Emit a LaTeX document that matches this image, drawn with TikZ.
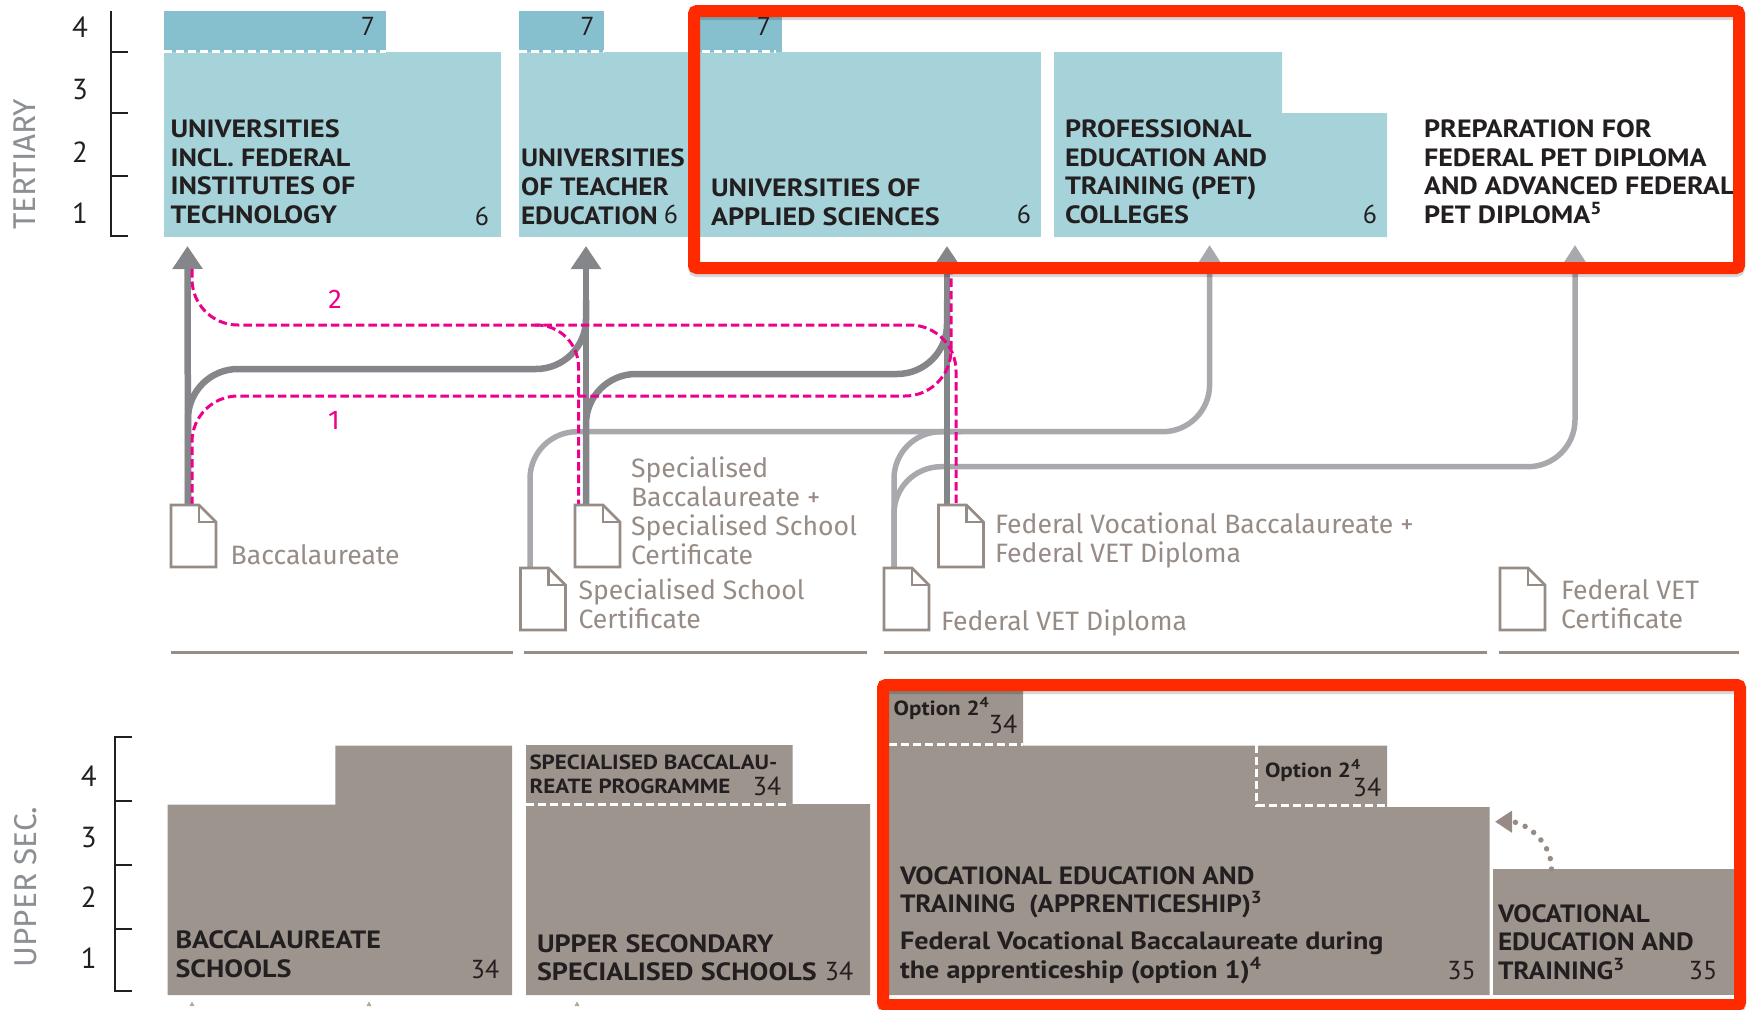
\documentclass[tikz,border=0pt]{standalone}
\usepackage{fontspec}
\setmainfont{Fira Sans}
\newfontfamily\headfont[FakeStretch=1.125]{PT Sans}
\newfontfamily\headtight[FakeStretch=1.09]{PT Sans}
\newfontfamily\numfont{PT Sans}
\usetikzlibrary{arrows.meta}
\definecolor{tealpale}{HTML}{A6D3D9}
\definecolor{tealdeep}{HTML}{86C0CF}
\definecolor{taupe}{HTML}{9D948D}
\definecolor{docgray}{HTML}{978C85}
\definecolor{darkroute}{HTML}{85868A}
\definecolor{lightroute}{HTML}{A7A9AC}
\definecolor{magentaroute}{HTML}{EC008C}
\definecolor{framered}{HTML}{FF2A00}
\definecolor{inkdark}{HTML}{231F20}
\definecolor{axisgray}{HTML}{8C9094}
\definecolor{tantick}{HTML}{B3A98F}
\newcommand{\docicon}[1]{
\draw[docline,fill=white] (#1.south west) -- (#1.north west) -- ([xshift=-17pt]#1.north east) -- ([yshift=-17pt]#1.north east) -- (#1.south east) -- cycle;
\draw[docline] ([xshift=-17pt]#1.north east) -- ([xshift=-17pt,yshift=-17pt]#1.north east) -- ([yshift=-17pt]#1.north east);
}
\begin{document}
\begin{tikzpicture}[x=1pt,y=-1pt]
\tikzstyle{every node}=[inner sep=0pt, outer sep=0pt]
\tikzstyle{docnode}=[minimum width=45pt, minimum height=62pt]
\tikzstyle{docline}=[draw=docgray, line width=2.6pt]
\tikzstyle{darkarrow}=[draw=darkroute, line width=6.5pt, -{Triangle[length=23pt,width=29pt]}]
\tikzstyle{darkline}=[draw=darkroute, line width=6.5pt, rounded corners=50pt]
\tikzstyle{lightline}=[draw=lightroute, line width=5.5pt, rounded corners=47pt]
\tikzstyle{lightarrow}=[lightline, -{Triangle[length=24pt,width=29pt]}]
\tikzstyle{pinkline}=[draw=magentaroute, line width=3pt, dash pattern=on 8.5pt off 4pt, rounded corners=46pt]
\tikzstyle{whitedash}=[draw=white, line width=3pt, dash pattern=on 8pt off 4pt]
\tikzstyle{rulerline}=[draw=inkdark, line width=2pt]
\tikzstyle{baseline}=[draw=taupe!95!black, line width=3pt]
\tikzstyle{redframe}=[draw=framered, line width=12pt, rounded corners=3pt]
\tikzstyle{frameshade}=[draw=black, opacity=.16, line width=12pt, rounded corners=3pt]
\tikzstyle{head}=[anchor=base west, align=left, text=inkdark, font=\headfont\bfseries\fontsize{25}{28.7}\selectfont]
\tikzstyle{headnarrow}=[head, font=\headtight\bfseries\fontsize{25}{28.7}\selectfont]
\tikzstyle{headsmall}=[head, font=\headfont\bfseries\fontsize{20.5}{24.5}\selectfont]
\tikzstyle{num}=[anchor=base, text=inkdark, font=\numfont\fontsize{26}{28}\selectfont]
\tikzstyle{axisnum}=[anchor=base, text=inkdark, font=\numfont\fontsize{29}{30}\selectfont]
\tikzstyle{doclabel}=[anchor=base west, align=left, text=docgray, font=\fontsize{26.6}{29}\selectfont]
\tikzstyle{pinknum}=[anchor=base, text=magentaroute, font=\fontsize{27}{28}\selectfont]
\tikzstyle{sidelabel}=[rotate=90, text=axisgray, font=\fontsize{31.5}{32}\selectfont]
\useasboundingbox (0,0) rectangle (1750,1009);
\fill[tealdeep] (163.5,11) rectangle (386,52);
\fill[tealdeep] (519,11) rectangle (604,52);
\fill[tealdeep] (690,11) rectangle (782,52);
\fill[tealpale] (163.5,52) rectangle (501,237);
\fill[tealpale] (519,52) rectangle (1041,237);
\fill[tealpale] (1054,52) -- (1282,52) -- (1282,113) -- (1387,113) -- (1387,237) -- (1054,237) -- cycle;
\draw[whitedash] (163.5,51) -- (386,51);
\draw[whitedash] (519,51) -- (604,51);
\draw[whitedash] (690,51) -- (776,51);
\draw[rulerline] (110.7,11) -- (110.7,236) -- (128,236);
\draw[rulerline] (110.7,52) -- (128,52);
\draw[rulerline] (110.7,113) -- (128,113);
\draw[rulerline] (110.7,176) -- (128,176);
\draw (80,37.2) node (t4) [axisnum] {4};
\draw (80,99.5) node (t3) [axisnum] {3};
\draw (80,162.2) node (t2) [axisnum] {2};
\draw (80,223.7) node (t1) [axisnum] {1};
\draw (24.5,164.5) node (tertiary) [sidelabel] {TERTIARY};
\draw (170.5,223.6) node (uni) [head] {UNIVERSITIES\\INCL. FEDERAL\\INSTITUTES OF\\TECHNOLOGY};
\draw (521,224) node (teach) [headnarrow] {UNIVERSITIES\\OF TEACHER\\EDUCATION};
\draw (711,225) node (applied) [head] {UNIVERSITIES OF\\APPLIED SCIENCES};
\draw (1065,223.6) node (pet) [head] {PROFESSIONAL\\EDUCATION AND\\TRAINING (PET)\\COLLEGES};
\draw (1424,223.6) node (prep) [head] {PREPARATION FOR\\FEDERAL PET DIPLOMA\\AND ADVANCED FEDERAL\\PET DIPLOMA\textsuperscript{5}};
\draw (368,35) node (n7a) [num] {7};
\draw (587.5,35) node (n7b) [num] {7};
\draw (764,35) node (n7c) [num] {7};
\draw (482,225) node (n6a) [num] {6};
\draw (671,223) node (n6b) [num] {6};
\draw (1024,223) node (n6c) [num] {6};
\draw (1370,223) node (n6d) [num] {6};
\coordinate (tipUni) at (187.5,246);
\coordinate (tipTeach) at (586,246);
\coordinate (tipApplied) at (947,246);
\coordinate (tipPet) at (1209.6,245);
\coordinate (tipPrep) at (1575,245);
\draw (193.5,536) node (docBacc) [docnode] {};
\draw (597.5,536) node (docSpecBacc) [docnode] {};
\draw (543,599) node (docSchool) [docnode] {};
\draw (961,536) node (docFedVoc) [docnode] {};
\draw (906.5,599) node (docDiploma) [docnode] {};
\draw (1522.5,599) node (docCert) [docnode] {};
\draw[lightarrow] ([xshift=-13pt]docSchool.north) |- (tipPet |- 0,431.7) -- (tipPet);
\draw[lightline] ([xshift=-12.5pt]docDiploma.north) |- (docFedVoc |- 0,431.7);
\draw[lightarrow] ([xshift=-12.5pt]docDiploma.north) |- (tipPrep |- 0,466.7) -- (tipPrep);
\draw[darkarrow] ([xshift=-5.5pt]docBacc.north) -- (tipUni);
\draw[darkarrow] ([xshift=-11.5pt]docSpecBacc.north) -- (tipTeach);
\draw[darkarrow] ([xshift=-14pt]docFedVoc.north) -- (tipApplied);
\draw[darkline] ([xshift=-5.5pt]docBacc.north) |- (tipTeach |- 0,369) -- (tipTeach |- 0,300);
\draw[darkline] ([xshift=-11.5pt]docSpecBacc.north) |- (tipApplied |- 0,374) -- (tipApplied |- 0,300);
\coordinate (pinkSplit) at (535,325);
\draw[pinkline] ([xshift=-1.5pt]docBacc.north) |- (951,396) -- (951,269);
\draw[pinkline] (192,269) |- (956,325) -- ([xshift=-5pt]docFedVoc.north);
\draw[pinkline, rounded corners=42pt] (pinkSplit) -| ([xshift=-19pt]docSpecBacc.north);
\draw (335,308) node (pinkTwo) [pinknum] {2};
\draw (334,429) node (pinkOne) [pinknum] {1};
\docicon{docBacc}
\docicon{docSpecBacc}
\docicon{docSchool}
\docicon{docFedVoc}
\docicon{docDiploma}
\docicon{docCert}
\draw (230.7,564) node (lblBacc) [doclabel] {Baccalaureate};
\draw (631,564) node (lblSpecBacc) [doclabel] {Specialised\\Baccalaureate +\\Specialised School\\Certificate};
\draw (578.6,628.7) node (lblSchool) [doclabel] {Specialised School\\Certificate};
\draw (995,562.7) node (lblFedVoc) [doclabel] {Federal Vocational Baccalaureate +\\Federal VET Diploma};
\draw (941,630) node (lblDiploma) [doclabel] {Federal VET Diploma};
\draw (1561,628.7) node (lblCert) [doclabel] {Federal VET\\Certificate};
\draw[baseline] (170.7,652.7) -- (513,652.7);
\draw[baseline] (524,652.7) -- (866.6,652.7);
\draw[baseline] (884,652.7) -- (1487,652.7);
\draw[baseline] (1498.6,652.7) -- (1739,652.7);
\fill[taupe] (167.5,804.7) -- (335.4,804.7) -- (335.4,745.7) -- (512,745.7) -- (512,995) -- (167.5,995) -- cycle;
\fill[taupe] (526,745) -- (792.7,745) -- (792.7,804) -- (870,804) -- (870,995) -- (526,995) -- cycle;
\fill[taupe] (885,685) -- (1023,685) -- (1023,745.7) -- (1387,745.7) -- (1387,807) -- (1489.7,807) -- (1489.7,995) -- (885,995) -- cycle;
\draw (1613,932) node (vetBox) [fill=taupe, minimum width=241pt, minimum height=126pt] {};
\draw[whitedash] (526,804) -- (790,804);
\draw[whitedash] (889,744) -- (1023,744);
\draw[whitedash] (1256.5,745) -- (1256.5,805) -- (1385,805);
\draw[rulerline] (132,737) -- (115,737) -- (115,991) -- (132,991);
\draw[rulerline] (115,800.7) -- (132,800.7);
\draw[rulerline] (115,864.7) -- (132,864.7);
\draw[rulerline] (115,928.7) -- (132,928.7);
\draw (88.8,786.5) node (u4) [axisnum] {4};
\draw (88.8,847.2) node (u3) [axisnum] {3};
\draw (88.8,907.5) node (u2) [axisnum] {2};
\draw (88.8,968.5) node (u1) [axisnum] {1};
\draw (26,887) node (upper) [sidelabel] {UPPER SEC.};
\draw (175.5,977.5) node (schools) [head] {BACCALAUREATE\\SCHOOLS};
\draw (537,980.7) node (special) [head] {UPPER SECONDARY\\SPECIALISED SCHOOLS};
\draw (529.5,793.5) node (specprog) [headsmall] {SPECIALISED BACCALAU-\\REATE PROGRAMME};
\draw (893.6,715.5) node (opt2a) [headsmall] {Option 2\textsuperscript{4}};
\draw (1265,777) node (opt2b) [headsmall] {Option 2\textsuperscript{4}};
\draw (900,912.7) node (vet) [headnarrow] {VOCATIONAL EDUCATION AND\\TRAINING \ (APPRENTICESHIP)\textsuperscript{3}};
\draw (900,978.5) node (fedvoc) [head] {Federal Vocational Baccalaureate during\\the apprenticeship (option 1)\textsuperscript{4}};
\draw (1498,979.6) node (vetshort) [headnarrow] {VOCATIONAL\\EDUCATION AND\\TRAINING\textsuperscript{3}};
\draw (485,978) node (n34a) [num] {34};
\draw (839,980) node (n34b) [num] {34};
\draw (767,795.7) node (n34c) [num] {34};
\draw (1003,733) node (n34d) [num] {34};
\draw (1367,796.7) node (n34e) [num] {34};
\draw (1461.6,979) node (n35a) [num] {35};
\draw (1703,979) node (n35b) [num] {35};
\coordinate (tipBack) at (1495,821.7);
\draw[draw=docgray, line width=5.5pt, line cap=round, dash pattern=on 0pt off 10.5pt, -{Triangle[length=17pt,width=21pt]}] ([xshift=-61.5pt]vetBox.north) to [out=90, in=0] (tipBack);
\foreach \tickx in {192,369,577}
\fill[tantick] (\tickx,1001.5) -- (\tickx+2.5,1006) -- (\tickx-2.5,1006) -- cycle;
\draw[frameshade] (694,14) rectangle (1739,271);
\draw[frameshade] (883,688) rectangle (1740,1008);
\draw[redframe] (694,11) rectangle (1739,268);
\draw[redframe] (883,685) rectangle (1740,1005);
\end{tikzpicture}
\end{document}
